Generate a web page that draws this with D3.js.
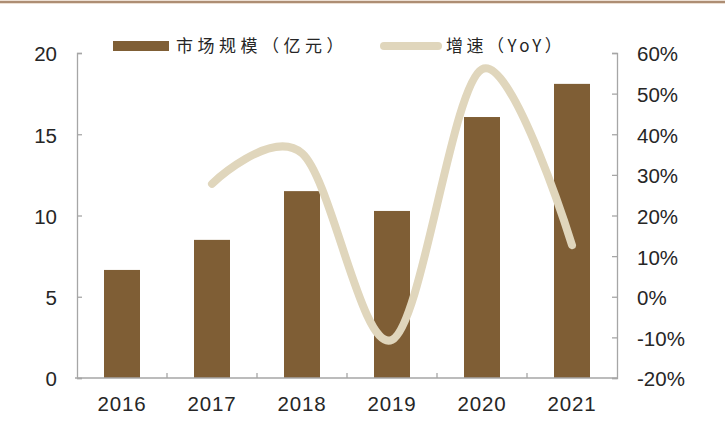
<!DOCTYPE html>
<html><head><meta charset="utf-8">
<script src="https://cdn.jsdelivr.net/npm/d3@7/dist/d3.min.js"></script>
<style>body{margin:0;background:#fff}svg{display:block}</style>
</head><body><svg id="c" width="725" height="441"></svg>
<script>
const years = ["2016","2017","2018","2019","2020","2021"];
const marketSize = [6.65, 8.5, 11.5, 10.28, 16.06, 18.1];
const growth = [null, 27.8, 35.3, -10.6, 56.0, 12.7];
const leftTicks = [0,5,10,15,20];
const rightTicks = [-20,-10,0,10,20,30,40,50,60];
const legendLabels = ["市场规模（亿元）","增速（YoY）"];

const svg = d3.select("#c");
const W=725,H=441;
const x0=77, x1=617, yTop=53, yBot=378;
const barColor="#7f5e35", lineColor="#e0d6bc", axisColor="#a6a6a6", textColor="#262626";
const font="'Liberation Sans', Arial, sans-serif";
const cjk="'Noto Sans CJK SC', sans-serif";

// top border
svg.append("rect").attr("x",0).attr("y",0).attr("width",W).attr("height",4).attr("fill","#ecdfd3");
svg.append("rect").attr("x",0).attr("y",1).attr("width",W).attr("height",2).attr("fill","#ad8e74");

const x = d3.scaleBand().domain(years).range([x0,x1]).paddingInner(0.6).paddingOuter(0.3);
const xb = d3.scaleBand().domain(years).range([x0,x1]);
const yL = d3.scaleLinear().domain([0,20]).range([yBot,yTop]);
const yR = d3.scaleLinear().domain([-20,60]).range([yBot,yTop]);

// bars
svg.append("g").selectAll("rect").data(years).join("rect")
  .attr("x",d=>x(d)).attr("width",x.bandwidth())
  .attr("y",(d,i)=>yL(marketSize[i])).attr("height",(d,i)=>yBot-yL(marketSize[i]))
  .attr("fill",barColor);

// axes
const gl = svg.append("g").attr("transform",`translate(${x0},0)`)
  .call(d3.axisRight(yL).tickValues(leftTicks).tickSize(5).tickFormat(""));
const gr = svg.append("g").attr("transform",`translate(${x1},0)`)
  .call(d3.axisLeft(yR).tickValues(rightTicks).tickSize(5).tickFormat(""));
const gx = svg.append("g").attr("transform",`translate(0,${yBot})`)
  .call(d3.axisTop(xb).tickSize(0).tickFormat(""));
[gl,gr,gx].forEach(g=>{g.selectAll("path,line").attr("stroke",axisColor).attr("stroke-width",1.3);});
gx.select("path").attr("d",`M${x0-2},0H${x1}`);
// x boundary ticks
svg.append("g").selectAll("line").data(years.slice(1)).join("line")
  .attr("x1",d=>xb(d)).attr("x2",d=>xb(d)).attr("y1",yBot).attr("y2",yBot-5)
  .attr("stroke",axisColor).attr("stroke-width",1.3);

// tick labels
const fs=20.5;
svg.append("g").selectAll("text").data(leftTicks).join("text")
  .attr("x",57).attr("y",d=>yL(d)+1).attr("dy","0.36em").attr("text-anchor","end")
  .attr("font-family",font).attr("font-size",fs).attr("fill",textColor).text(d=>d);
svg.append("g").selectAll("text").data(rightTicks).join("text")
  .attr("x",637).attr("y",d=>yR(d)+1).attr("dy","0.36em").attr("text-anchor","start")
  .attr("font-family",font).attr("font-size",fs).attr("fill",textColor).text(d=>d+"%");
svg.append("g").selectAll("text").data(years).join("text")
  .attr("x",d=>xb(d)+xb.bandwidth()/2).attr("y",404).attr("dy","0.36em").attr("text-anchor","middle")
  .attr("font-family",font).attr("font-size",fs).attr("letter-spacing",0.8).attr("fill",textColor).text(d=>d);

// line
const pts = years.map((d,i)=>[xb(d)+xb.bandwidth()/2, growth[i]]).filter(p=>p[1]!==null);
svg.append("path").datum(pts)
  .attr("d",d3.line().x(p=>p[0]).y(p=>yR(p[1])).curve(d3.curveCatmullRom.alpha(0)))
  .attr("fill","none").attr("stroke",lineColor).attr("stroke-width",8).attr("stroke-linecap","round");

// legend
svg.append("rect").attr("x",113).attr("y",41).attr("width",56).attr("height",10).attr("fill",barColor);
svg.append("text").attr("x",176).attr("y",46).attr("dy","0.36em")
  .attr("font-family",cjk).attr("font-size",17).attr("letter-spacing",4.5).attr("fill",textColor).text(legendLabels[0]);
svg.append("line").attr("x1",384).attr("x2",438).attr("y1",46).attr("y2",46)
  .attr("stroke",lineColor).attr("stroke-width",8).attr("stroke-linecap","round");
svg.append("text").attr("x",446).attr("y",46).attr("dy","0.36em")
  .attr("font-family",cjk).attr("font-size",17).attr("letter-spacing",3.5).attr("fill",textColor).text(legendLabels[1]);
</script></body></html>
